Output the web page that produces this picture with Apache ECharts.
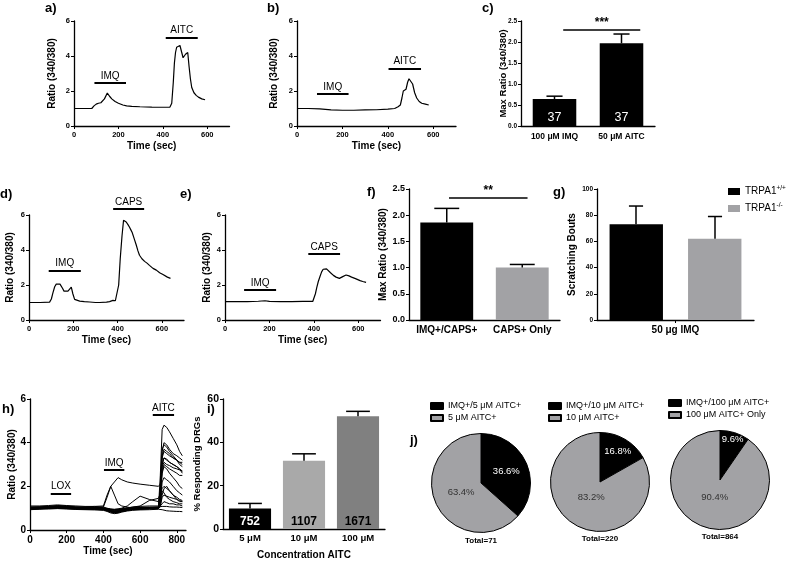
<!DOCTYPE html>
<html><head><meta charset="utf-8">
<script src="https://cdn.jsdelivr.net/npm/echarts@6/dist/echarts.min.js"></script>
<style>html,body{margin:0;padding:0;background:#fff}#c{width:789px;height:561px}</style>
</head><body><div id="c"></div>
<script>
// ---------- DATA ----------
const traceTicksX = [0, 200, 400, 600];
const hTicksX = [0, 200, 400, 600, 800];

// a)
const aTime = [0,40,80,90,100,110,117,121,128,137,150,160,170,185,200,220,237,260,297,350,400,432,440,447,452,457,462,468,477,485,491,496,502,507,512,518,524,530,540,550,560,575,590];
const aRatio = [1.0,1.0,1.0,1.15,1.25,1.3,1.4,1.33,1.42,1.55,1.88,1.7,1.55,1.4,1.3,1.2,1.15,1.12,1.1,1.08,1.07,1.08,1.3,2.5,3.6,4.2,4.5,4.6,4.6,4.2,3.9,3.82,4.1,4.15,4.2,3.4,2.7,2.2,1.9,1.75,1.65,1.55,1.5];
const aStim = [['IMQ', 92, 234, 2.47], ['AITC', 413, 557, 5.07]];
// b)
const bTime = [0,50,100,150,200,250,300,350,400,430,445,455,462,468,473,480,487,493,500,509,518,527,538,549,565,580];
const bRatio = [1.0,1.0,0.98,0.92,0.9,0.9,0.92,0.93,0.96,1.0,1.1,1.2,1.6,2.0,2.05,2.1,2.5,2.7,2.65,2.4,1.9,1.6,1.4,1.3,1.25,1.2];
const bStim = [['IMQ', 88, 227, 1.83], ['AITC', 403, 546, 3.3]];
// c)
const cCats = ['100 μM IMQ', '50 μM AITC'];
const cMean = [0.64, 1.97];
const cUpper = [0.71, 2.19];
const cN = ['37', '37'];
const cSig = [0.13, 1.28, 2.3, '***'];
// d)
const dTime = [0,50,93,101,108,116,123,131,140,146,152,158,165,176,185,191,198,206,215,229,250,274,300,319,350,364,379,390,397,405,412,420,427,433,439,447,454,460,466,475,484,492,499,510,522,533,544,560,575,590,597,605,612,625,639];
const dRatio = [1.0,1.0,1.02,1.2,1.55,1.9,2.05,2.12,2.05,2.0,1.8,1.65,1.63,1.65,1.75,1.88,1.5,1.18,1.12,1.08,1.05,1.03,1.0,1.0,1.02,1.05,1.12,1.1,1.08,2.0,3.5,4.8,5.7,5.7,5.6,5.45,5.3,5.15,5.0,4.65,4.3,3.95,3.7,3.5,3.35,3.25,3.12,2.95,2.85,2.7,2.65,2.6,2.55,2.45,2.38];
const dStim = [['IMQ', 89, 234, 2.82], ['CAPS', 380, 520, 6.34]];
// e)
const eTime = [0,50,100,150,180,200,250,300,350,395,401,407,413,420,428,435,442,450,457,465,475,488,500,515,530,545,558,570,590,608,620,635];
const eRatio = [1.05,1.05,1.05,1.07,1.1,1.06,1.05,1.05,1.06,1.06,1.1,1.5,1.85,2.2,2.5,2.75,2.9,2.95,2.92,2.85,2.7,2.55,2.45,2.38,2.48,2.57,2.52,2.45,2.35,2.25,2.2,2.15];
const eStim = [['IMQ', 86, 230, 1.71], ['CAPS', 375, 518, 3.77]];
// f)
const fCats = ['IMQ+/CAPS+', 'CAPS+ Only'];
const fMean = [1.86, 1.0];
const fUpper = [2.13, 1.06];
const fSig = [0.03, 1.07, 2.33, '**'];
// g)
const gCats = ['50 μg IMQ'];
const gNames = ['TRPA1+/+', 'TRPA1-/-'];
const gMean = [73, 62];
const gUpper = [87, 79];
// h)
const hTime = [0,50,100,150,200,250,300,350,400,420,440,460,480,500,530,560,600,650,700,710,720,730,745,760,780,800,815,830];
const hTraces = [
 [1.0,1.02,1.05,1.1,1.05,1.02,1.0,1.0,0.98,0.95,0.92,0.9,0.92,0.95,0.98,1.0,1.0,1.02,1.05,2.5,4.6,4.8,4.7,4.5,4.2,3.9,3.6,3.4],
 [1.05,1.05,1.08,1.12,1.1,1.05,1.05,1.08,1.1,1.6,2.0,2.2,2.4,2.3,2.2,2.15,2.1,2.05,2.0,2.1,3.0,3.3,3.2,3.1,3.0,2.9,2.8,2.7],
 [1.0,1.0,1.02,1.05,1.02,1.0,1.0,1.02,1.05,1.5,2.0,1.6,1.2,1.1,1.05,1.0,1.0,1.0,1.02,1.8,3.6,4.0,3.9,3.7,3.5,3.4,3.3,3.2],
 [0.98,1.0,1.0,1.05,1.02,1.0,0.98,0.98,0.95,0.9,0.85,0.82,0.85,0.88,0.92,0.95,0.98,1.0,1.0,2.0,3.7,3.9,3.8,3.6,3.4,3.2,3.1,3.0],
 [1.02,1.0,1.03,1.08,1.05,1.02,1.0,1.0,0.97,0.92,0.88,0.85,0.86,0.9,0.95,0.98,1.0,1.02,1.03,1.6,3.3,3.6,3.5,3.4,3.3,3.2,3.0,2.9],
 [1.0,0.98,1.0,1.02,1.0,0.98,0.97,0.96,0.93,0.88,0.83,0.8,0.82,0.85,0.9,0.95,0.97,0.98,1.0,1.5,3.0,3.3,3.25,3.1,3.0,2.9,2.8,2.6],
 [1.0,1.02,1.04,1.06,1.04,1.02,1.0,1.0,1.0,0.98,0.95,0.95,0.97,1.0,1.1,1.3,1.55,1.4,1.3,1.6,2.7,3.0,2.9,2.8,2.7,2.6,2.5,2.5],
 [0.95,0.97,1.0,1.0,0.98,0.96,0.95,0.95,0.92,0.88,0.82,0.78,0.8,0.84,0.9,0.94,0.96,0.98,1.0,1.3,2.6,2.9,2.8,2.6,2.4,2.2,2.0,1.9],
 [1.0,1.0,1.02,1.04,1.02,1.0,1.0,1.0,0.96,0.9,0.86,0.84,0.86,0.9,0.95,0.98,1.0,1.0,1.0,1.2,2.2,2.4,2.3,2.2,2.0,1.8,1.7,1.6],
 [1.03,1.05,1.05,1.08,1.06,1.04,1.02,1.02,1.0,0.97,0.93,0.9,0.92,0.95,1.0,1.05,1.1,1.35,1.45,1.5,1.9,2.0,1.9,1.8,1.6,1.4,1.3,1.3],
 [0.97,0.98,1.0,1.03,1.0,0.98,0.97,0.97,0.94,0.9,0.85,0.8,0.82,0.86,0.9,0.93,0.95,0.97,0.98,1.1,1.5,1.6,1.55,1.5,1.45,1.4,1.35,1.3],
 [1.0,1.0,1.0,1.02,1.0,1.0,0.99,0.99,0.97,0.93,0.88,0.86,0.88,0.92,0.96,0.99,1.0,1.0,1.0,1.05,1.2,1.3,1.25,1.2,1.2,1.15,1.15,1.1],
 [1.05,1.06,1.08,1.1,1.08,1.06,1.05,1.04,1.02,0.98,0.95,0.93,0.94,0.97,1.0,1.02,1.03,1.05,1.05,1.06,1.08,1.1,1.08,1.06,1.05,1.05,1.04,1.03],
 [0.93,0.95,0.96,0.98,0.96,0.94,0.93,0.92,0.9,0.85,0.78,0.75,0.77,0.82,0.87,0.9,0.92,0.93,0.95,0.95,0.93,0.9,0.88,0.87,0.86,0.85,0.85,0.84],
 [1.1,1.1,1.12,1.15,1.12,1.1,1.08,1.08,1.05,1.0,0.96,0.94,0.95,0.98,1.02,1.05,1.08,1.1,1.1,1.3,1.8,1.7,1.5,1.4,1.3,1.25,1.2,1.2],
 [0.98,0.99,1.0,1.02,1.0,0.99,0.98,0.97,0.95,0.9,0.84,0.81,0.83,0.87,0.92,0.95,0.97,0.98,0.98,1.7,3.4,3.7,3.6,3.5,3.3,3.2,3.1,3.1],
 [1.02,1.03,1.05,1.07,1.05,1.03,1.02,1.01,0.99,0.94,0.89,0.87,0.89,0.93,0.97,1.0,1.02,1.03,1.04,1.5,2.9,3.1,3.0,2.95,2.85,2.8,2.75,2.7],
 [0.96,0.97,0.99,1.01,0.99,0.97,0.96,0.96,0.94,0.9,0.84,0.8,0.83,0.88,0.93,0.96,0.98,0.99,1.0,1.1,1.6,1.9,2.0,1.8,1.6,1.5,1.4,1.35]
];
const hStim = [['LOX', 113, 224, 1.68], ['IMQ', 403, 514, 2.75], ['AITC', 669, 785, 5.27]];
// i)
const iCats = ['5 μM', '10 μM', '100 μM'];
const iMean = [9.5, 31.5, 52];
const iUpper = [11.8, 34.7, 54.3];
const iN = ['752', '1107', '1671'];
// j)
const j1Names = ['IMQ+/5 μM AITC+', '5 μM AITC+'];
const j1Vals = [36.6, 63.4];
const j2Names = ['IMQ+/10 μM AITC+', '10 μM AITC+'];
const j2Vals = [16.8, 83.2];
const j3Names = ['IMQ+/100 μM AITC+', '100 μM AITC+ Only'];
const j3Vals = [9.6, 90.4];
const jTotals = ['Total=71', 'Total=220', 'Total=864'];

// ---------- STYLE / HELPERS ----------
const FF = '"Liberation Sans", Arial, Helvetica, sans-serif';
const GRAY = '#a2a2a5';
const PIE_R = 49.5;
function ts(size, bold, extra) { return Object.assign({fontSize: size, fontWeight: bold ? 'bold' : 'normal', color: '#000', fontFamily: FF}, extra || {}); }
const AX_LINE = {show: true, onZero: false, lineStyle: {color: '#000', width: 1.3}};
function zip(x, y) { return x.map((v, i) => [v, y[i]]); }

function traceX(grid, max, ticks, fs, nameFs, gap) {
  return {type: 'value', gridIndex: grid, min: 0, max: max, interval: 200,
    name: 'Time (sec)', nameLocation: 'middle', nameGap: gap, nameMoveOverlap: false, nameTextStyle: ts(nameFs, true),
    axisLine: AX_LINE, axisTick: {show: true, length: 3, customValues: ticks, lineStyle: {color: '#000'}},
    axisLabel: Object.assign(ts(fs, true), {margin: 5, customValues: ticks}), splitLine: {show: false}};
}
function valY(grid, max, interval, fs, name, nameFs, gap, fmt, nameBold) {
  return {type: 'value', gridIndex: grid, min: 0, max: max, interval: interval,
    name: name, nameLocation: 'middle', nameGap: gap, nameMoveOverlap: false, nameTextStyle: ts(nameFs, nameBold !== false),
    axisLine: AX_LINE, axisTick: {show: true, length: 3, lineStyle: {color: '#000'}},
    axisLabel: Object.assign(ts(fs, true), {margin: 4, formatter: fmt || null}), splitLine: {show: false}};
}
function catX(grid, cats, fs, margin, name, nameFs, gap, tick) {
  return {type: 'category', gridIndex: grid, data: cats, name: name || '', nameLocation: 'middle', nameGap: gap || 15,
    nameMoveOverlap: false, nameTextStyle: ts(nameFs || 10, true),
    axisLine: AX_LINE, axisTick: {show: !!tick, alignWithLabel: true, length: 3, lineStyle: {color: '#000'}},
    axisLabel: Object.assign(ts(fs, true), {margin: margin, interval: 0}), splitLine: {show: false}};
}
function stimMark(stims) {
  return {silent: true, symbol: ['none', 'none'], animation: false,
    lineStyle: {color: '#000', width: 2, type: 'solid'},
    label: {show: true, position: 'insideMiddleTop', formatter: '{b}', color: '#000', fontSize: 10, fontFamily: FF, distance: 2},
    emphasis: {disabled: true},
    data: stims.map(s => [{name: s[0], coord: [s[1], s[3]]}, {coord: [s[2], s[3]]}])};
}
function trace(xi, t, v, stims, w) {
  const s = {type: 'line', xAxisIndex: xi, yAxisIndex: xi, data: zip(t, v), symbol: 'none', clip: false,
    lineStyle: {color: '#000', width: w || 1.2}, silent: true};
  if (stims) s.markLine = stimMark(stims);
  return s;
}
function errSeries(xi, yi, mean, upper, capFrac, offFrac) {
  return {type: 'custom', xAxisIndex: xi, yAxisIndex: yi, z: 5, silent: true,
    encode: {x: 0, y: [1, 2]},
    data: mean.map((m, i) => [i, m, upper[i]]),
    renderItem: function (params, api) {
      const band = api.size([1, 0])[0];
      const p0 = api.coord([api.value(0), api.value(1)]);
      const p1 = api.coord([api.value(0), api.value(2)]);
      const cx = p0[0] + band * offFrac;
      const hw = band * capFrac / 2;
      const st = {stroke: '#000', lineWidth: 1.5};
      return {type: 'group', children: [
        {type: 'line', shape: {x1: cx, y1: p0[1], x2: cx, y2: p1[1]}, style: st},
        {type: 'line', shape: {x1: cx - hw, y1: p1[1], x2: cx + hw, y2: p1[1]}, style: st}]};
    }};
}
function sigSeries(xi, yi, sig) {
  return {type: 'line', xAxisIndex: xi, yAxisIndex: yi, data: [], silent: true,
    markLine: {silent: true, symbol: ['none', 'none'], animation: false,
      lineStyle: {color: '#000', width: 1.5, type: 'solid'},
      label: {show: true, position: 'insideMiddleTop', formatter: sig[3], color: '#000', fontSize: 12, fontWeight: 'bold', fontFamily: FF, distance: 1},
      data: [[{coord: [sig[0], sig[2]]}, {coord: [sig[1], sig[2]]}]]}};
}
// radial position (fraction of radius) of each slice's percentage label
const jLabelR = [[0.5, 0.38], [0.65, 0.29], [0.8, 0.3]];
function pie(center, names, vals, lr) {
  const total = vals[0] + vals[1];
  let start = 0;
  const data = vals.map((v, k) => {
    const mid = (start + v / 2) / total * 2 * Math.PI; start += v;
    const shift = (lr[k] - 0.5) * PIE_R;
    return {name: names[k], value: v, itemStyle: {color: k === 0 ? '#000' : GRAY},
      label: {color: k === 0 ? '#fff' : '#333', offset: [Math.sin(mid) * shift, -Math.cos(mid) * shift]}};
  });
  return {type: 'pie', center: center, radius: PIE_R, startAngle: 90, clockwise: true, silent: true,
    label: {show: true, position: 'inside', formatter: '{c}%', fontSize: 9.5, fontFamily: FF},
    labelLine: {show: false}, itemStyle: {borderColor: '#000', borderWidth: 1}, data: data};
}
function pieLegend(names, left, top) {
  return {data: names, orient: 'vertical', left: left, top: top, itemWidth: 12, itemHeight: 6, itemGap: 2,
    icon: 'rect', selectedMode: false, padding: 0, textStyle: ts(9, false, {lineHeight: 10})};
}
function letter(t, x, y) {
  return {type: 'text', x: x, y: y, style: {text: t, fill: '#000', font: 'bold 13px ' + FF, textVerticalAlign: 'top', verticalAlign: 'top'}};
}
function ctext(t, x, y) {
  return {type: 'text', x: x, y: y, style: {text: t, fill: '#000', font: 'bold 8px ' + FF, textAlign: 'center', align: 'center', textVerticalAlign: 'middle', verticalAlign: 'middle'}};
}

// ---------- OPTION ----------
const option = {
  animation: false,
  backgroundColor: '#fff',
  textStyle: {fontFamily: FF},
  grid: [
    {left: 74, top: 21, width: 155.5, height: 105},   // a
    {left: 297, top: 21, width: 159, height: 105},    // b
    {left: 521, top: 21, width: 134, height: 105},    // c
    {left: 29, top: 215, width: 155, height: 105},    // d
    {left: 225, top: 215, width: 155.5, height: 105}, // e
    {left: 409, top: 189, width: 151, height: 131},   // f
    {left: 597, top: 189, width: 157, height: 131},   // g
    {left: 30, top: 399, width: 156, height: 131},    // h
    {left: 223, top: 399, width: 162, height: 131},   // i
    {left: 29, top: 197.5, width: 155, height: 122.5} // d, stimulus overlay (0..7)
  ],
  xAxis: [
    traceX(0, 700, traceTicksX, 7.5, 10, 15),
    traceX(1, 700, traceTicksX, 7.5, 10, 15),
    catX(2, cCats, 8.5, 6),
    traceX(3, 700, traceTicksX, 7.5, 10, 15),
    traceX(4, 700, traceTicksX, 7.5, 10, 15),
    catX(5, fCats, 10, 5),
    catX(6, gCats, 10, 5, '', 10, 15, true),
    traceX(7, 850, hTicksX, 10, 10, 16),
    catX(8, iCats, 9.5, 4, 'Concentration AITC', 10, 21),
    {type: 'value', gridIndex: 2, min: -0.5, max: 1.5, show: false},
    {type: 'value', gridIndex: 5, min: -0.5, max: 1.5, show: false},
    {type: 'value', gridIndex: 9, min: 0, max: 700, show: false}
  ],
  yAxis: [
    valY(0, 6, 2, 7.5, 'Ratio (340/380)', 10, 17),
    valY(1, 6, 2, 7.5, 'Ratio (340/380)', 10, 18),
    valY(2, 2.5, 0.5, 6.5, 'Max Ratio (340/380)', 9.5, 13, v => v.toFixed(1)),
    valY(3, 6, 2, 7.5, 'Ratio (340/380)', 10, 14),
    valY(4, 6, 2, 7.5, 'Ratio (340/380)', 10, 12.5),
    valY(5, 2.5, 0.5, 9, 'Max Ratio (340/380)', 10, 21, v => v.toFixed(1)),
    valY(6, 100, 20, 6.5, 'Scratching Bouts', 10, 20),
    valY(7, 6, 2, 10, 'Ratio (340/380)', 10, 13),
    valY(8, 60, 20, 10.5, '% Responding DRGs', 9.5, 21),
    {type: 'value', gridIndex: 9, min: 0, max: 7, show: false}
  ],
  legend: [
    {data: gNames, orient: 'vertical', left: 728, top: 185, itemWidth: 12, itemHeight: 7, itemGap: 4,
      icon: 'rect', selectedMode: false, padding: 0,
      formatter: n => 'TRPA1{sup|' + n.slice(5) + '}',
      textStyle: ts(10, false, {lineHeight: 13, rich: {sup: {fontSize: 6.5, fontFamily: FF, color: '#000', verticalAlign: 'top', lineHeight: 13, padding: [0, 0, 6, 0]}}})},
    pieLegend(j1Names, 430, 401),
    pieLegend(j2Names, 548, 401),
    pieLegend(j3Names, 668, 398)
  ],
  graphic: [
    letter('a)', 45, 2), letter('b)', 267, 2), letter('c)', 482, 2),
    letter('d)', 0, 188), letter('e)', 180, 188), letter('f)', 367, 186), letter('g)', 553, 186),
    letter('h)', 2, 403), letter('i)', 207, 403), letter('j)', 410, 434),
    ctext(jTotals[0], 481, 541), ctext(jTotals[1], 600, 539), ctext(jTotals[2], 720, 537)
  ],
  series: [
    trace(0, aTime, aRatio, aStim),
    trace(1, bTime, bRatio, bStim),
    trace(3, dTime, dRatio, null),
    {type: 'line', xAxisIndex: 11, yAxisIndex: 9, data: [], silent: true, markLine: stimMark(dStim)},
    trace(4, eTime, eRatio, eStim),
    // c
    {type: 'bar', xAxisIndex: 2, yAxisIndex: 2, barWidth: '65%', silent: true, data: cMean,
      itemStyle: {color: '#000'},
      label: {show: true, position: 'insideBottom', distance: 2, formatter: p => cN[p.dataIndex], color: '#fff', fontSize: 12.5, fontFamily: FF}},
    errSeries(2, 2, cMean, cUpper, 0.24, 0),
    sigSeries(9, 2, cSig),
    // f
    {type: 'bar', xAxisIndex: 5, yAxisIndex: 5, barWidth: '70%', silent: true,
      data: fMean.map((v, i) => ({value: v, itemStyle: {color: i === 0 ? '#000' : GRAY}}))},
    errSeries(5, 5, fMean, fUpper, 0.33, 0),
    sigSeries(10, 5, fSig),
    // g
    {type: 'bar', name: gNames[0], xAxisIndex: 6, yAxisIndex: 6, barWidth: '34%', barGap: '47%', silent: true,
      data: [gMean[0]], itemStyle: {color: '#000'}},
    {type: 'bar', name: gNames[1], xAxisIndex: 6, yAxisIndex: 6, barWidth: '34%', barGap: '47%', silent: true,
      data: [gMean[1]], itemStyle: {color: GRAY}},
    errSeries(6, 6, [gMean[0]], [gUpper[0]], 0.09, -0.2516),
    errSeries(6, 6, [gMean[1]], [gUpper[1]], 0.09, 0.2516),
    // h
    ...hTraces.map((tr, k) => trace(7, hTime, tr, k === 0 ? hStim : null, 1)),
    // i
    {type: 'bar', xAxisIndex: 8, yAxisIndex: 8, barWidth: '78%', silent: true,
      data: iMean.map((v, i) => ({value: v, itemStyle: {color: ['#000', '#a9a9a9', '#808080'][i]},
        label: {color: i === 0 ? '#fff' : '#000'}})),
      label: {show: true, position: 'insideBottom', distance: 1, formatter: p => iN[p.dataIndex],
        fontSize: 12, fontWeight: 'bold', fontFamily: FF}},
    errSeries(8, 8, iMean, iUpper, 0.44, 0),
    // j
    pie([481, 483], j1Names, j1Vals, jLabelR[0]),
    pie([600, 482], j2Names, j2Vals, jLabelR[1]),
    pie([720, 480], j3Names, j3Vals, jLabelR[2])
  ]
};
const chart = echarts.init(document.getElementById('c'), null, {renderer: 'canvas'});
chart.setOption(option);
</script>
</body></html>
